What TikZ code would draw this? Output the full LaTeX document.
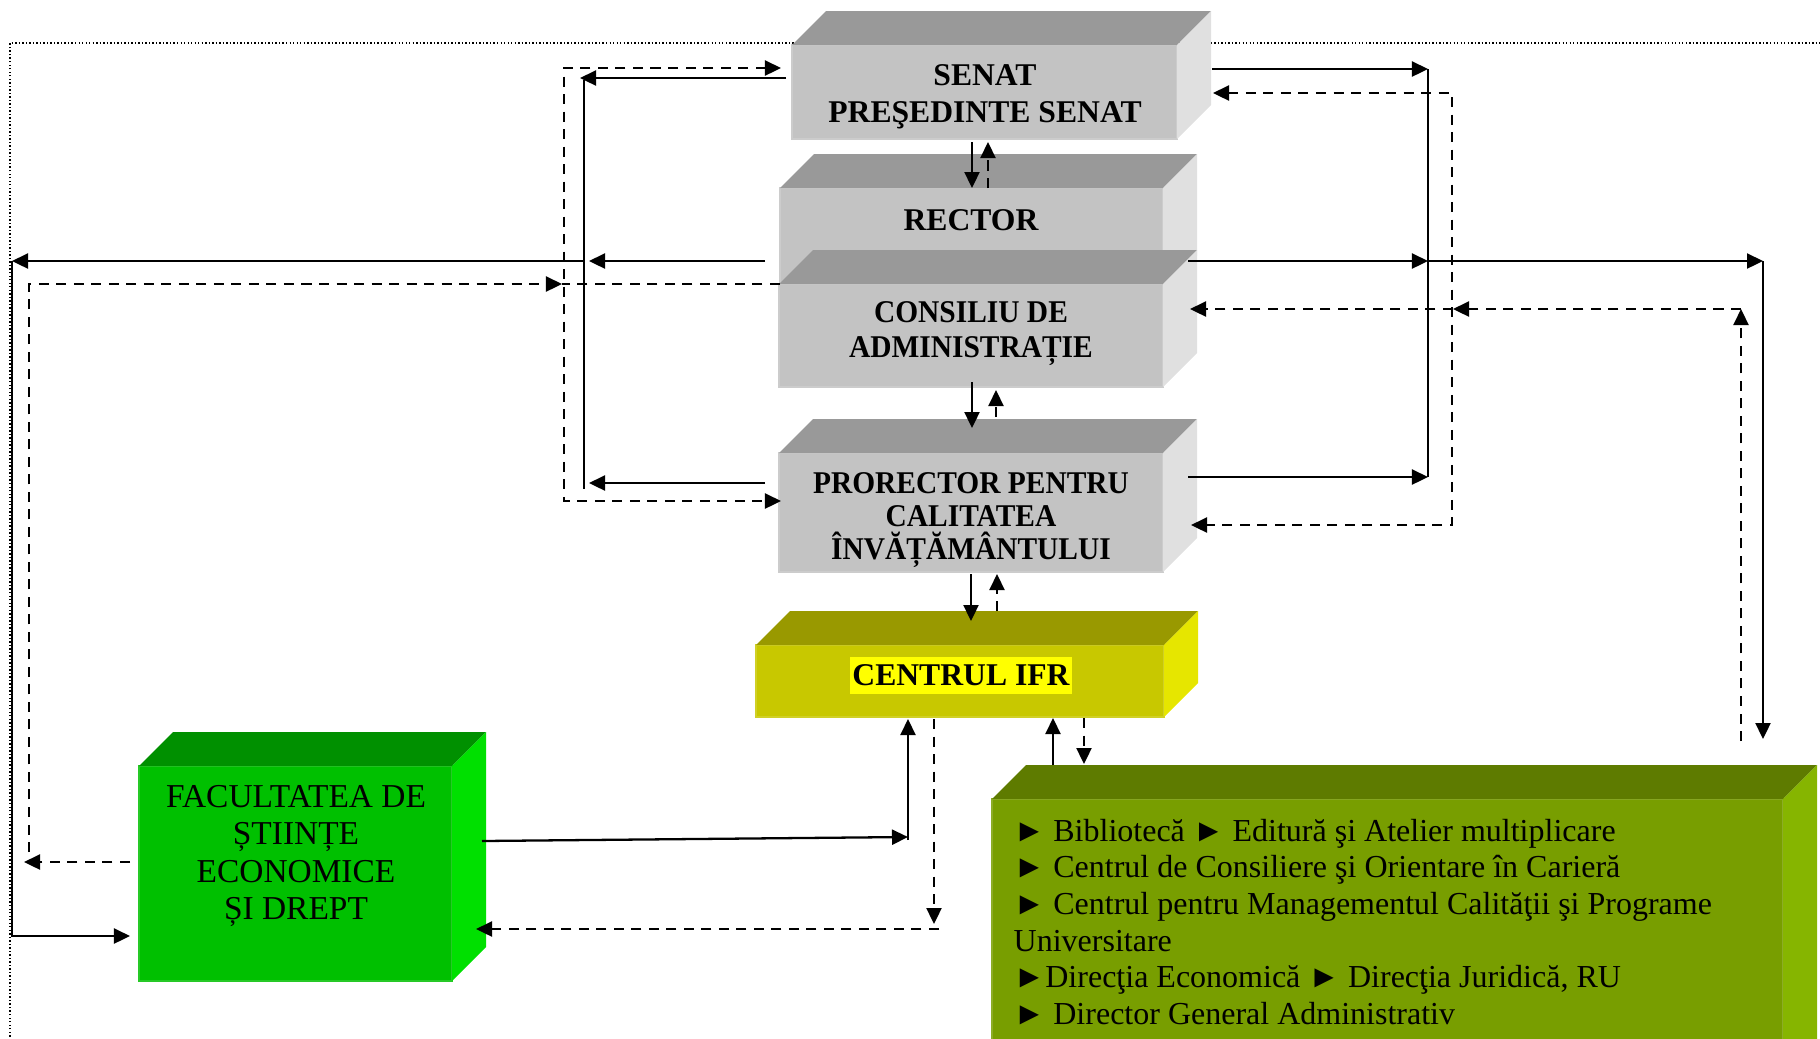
\documentclass[tikz,border=0pt]{standalone}
\usepackage{fontspec}
\setmainfont{Liberation Serif}
\newfontfamily\condserif[FakeStretch=0.93]{Liberation Serif}
\usetikzlibrary{arrows.meta}
\definecolor{gytop}{HTML}{999999}
\definecolor{gyfront}{HTML}{C3C3C3}
\definecolor{gyside}{HTML}{E0E0E0}
\definecolor{yltop}{HTML}{999900}
\definecolor{ylfront}{HTML}{C8C800}
\definecolor{ylside}{HTML}{E6E600}
\definecolor{grtop}{HTML}{009000}
\definecolor{grfront}{HTML}{00C000}
\definecolor{grside}{HTML}{00E000}
\definecolor{oltop}{HTML}{5E7B00}
\definecolor{olfront}{HTML}{789E00}
\definecolor{olside}{HTML}{86B500}
\definecolor{hilite}{HTML}{FFFF00}
\newcommand\cuboid[7]{%
  \node[frontface, fill=#6front, draw=#6front!85!white, minimum width=#4*0.01cm, minimum height=#5*0.01cm] (#1) at (#2,#3) {};
  \fill[#6top] (#1.north west) -- ++(#7,-#7) -- ([shift={(#7,-#7)}]#1.north east) -- (#1.north east) -- cycle;
  \fill[#6side] (#1.north east) -- ++(#7,-#7) -- ([shift={(#7,-#7)}]#1.south east) -- (#1.south east) -- cycle;
}
\begin{document}
\begin{tikzpicture}[x=0.01cm,y=-0.01cm,
  frontface/.style={rectangle, anchor=north west, inner sep=0pt, outer sep=0pt, line width=0.5pt},
  ln/.style={line width=0.65pt},
  thinl/.style={line width=0.35pt},
  dsh/.style={line width=0.65pt, dash pattern=on 0.1cm off 0.075cm},
  tip/.style={-{Triangle[length=0.16cm,width=0.15cm]}},
  tips2/.style={{Triangle[length=0.16cm,width=0.15cm]}-{Triangle[length=0.16cm,width=0.15cm]}},
  bl/.style={font=\fontsize{9}{10.5}\selectfont\bfseries, align=center, inner sep=0pt},
  cbl/.style={align=center, inner sep=0pt},
  nl/.style={font=\fontsize{9.5}{10.6}\selectfont, align=center, inner sep=0pt},
  lst/.style={font=\fontsize{9.1}{10.5}\selectfont, anchor=base west, inner sep=0pt}]
\useasboundingbox (0,0) rectangle (1820,1038);
\clip (0,0) rectangle (1820,1038);
% dotted frame
\draw[line width=0.4pt, dash pattern=on 0.4pt off 0.6pt] (10,1040) -- (10,43) -- (1822,43);
% boxes
\cuboid{senat}{792}{45}{385}{94}{gy}{34}
\cuboid{rector}{780}{188}{383}{102}{gy}{34}
\cuboid{consiliu}{779}{284}{384}{103}{gy}{34}
\cuboid{prorector}{779}{453}{384}{119}{gy}{34}
\cuboid{centrul}{756}{645}{408}{72}{yl}{34}
\cuboid{facultate}{139}{766}{313}{215}{gr}{34}
\cuboid{servicii}{992}{799}{791}{300}{ol}{34}
% labels
\node[bl] (senatlbl) at (985,97) {SENAT\\PREŞEDINTE SENAT};
\node[bl] (rectorlbl) at (971,220) {RECTOR};
\node[cbl, font=\fontsize{9}{10}\condserif\bfseries] (consiliulbl) at (971,333.5) {CONSILIU DE\\ADMINISTRAȚIE};
\node[cbl, font=\fontsize{9}{9.4}\condserif\bfseries] (prorectorlbl) at (971,520) {PRORECTOR PENTRU\\CALITATEA\\ÎNVĂȚĂMÂNTULUI};
\node[bl, fill=hilite, inner xsep=0.6pt, minimum height=0.37cm] (centrullbl) at (961,675) {CENTRUL IFR};
\node[nl] (faclbl) at (296,856) {FACULTATEA DE\\ȘTIINȚE\\ECONOMICE\\ȘI DREPT};
\node[lst] (l1) at (1013,841) {► Bibliotecă ► Editură şi Atelier multiplicare};
\node[lst] (l2) at (1013,877) {► Centrul de Consiliere şi Orientare în Carieră};
\node[lst] (l3) at (1013,914) {► Centrul pentru Managementul Calităţii şi Programe};
\node[lst] (l4) at (1013,951) {Universitare};
\node[lst] (l5) at (1013,987) {►Direcţia Economică ► Direcţia Juridică, RU};
\node[lst] (l6) at (1013,1024) {► Director General Administrativ};
% named bend points
\coordinate (lbT) at (584,80);  \coordinate (lbB) at (584,489);
\coordinate (rbT) at (1428,69); \coordinate (rbB) at (1428,477);
\coordinate (rbM) at (1428,261);
\coordinate (ldT) at (564,68);  \coordinate (ldB) at (564,501); \coordinate (ldM) at (562,284);
\coordinate (rdT) at (1452,93); \coordinate (rdB) at (1452,525); \coordinate (rdM) at (1453,309);
\coordinate (flT) at (12,261);  \coordinate (flB) at (12,936);
\coordinate (fdT) at (29,284);  \coordinate (fdB) at (29,852); \coordinate (fdA) at (24,862);
\coordinate (frT) at (1763,261); \coordinate (frB) at (1763,739);
\coordinate (frdT) at (1741,309); \coordinate (frdB) at (1741,741);
\coordinate (ifrS) at (908,837);
\coordinate (ifrD) at (934,924); \coordinate (ifrE) at (939,929);
% left solid
\draw[thinl] (lbT) -- (lbB);
\draw[ln,tip] (786,78) -- (580,78);
\draw[ln,tip] (765,261) -- (589,261);
\draw[ln,tip] (584,261) -- (flT);
\draw[ln,tip] (flT) -- (flB) -- (130,936);
\draw[ln,tip] (765,483) -- (589,483);
% left dashed
\draw[dsh,tips2] (781,68) -- (ldT) -- (ldB) -- (781,501);
\draw[dsh] (780,284) -- (ldM);
\draw[dsh,tip] (fdB) -- (fdT) -- (ldM);
\draw[dsh,tip] (130,862) -- (fdA);
% right solid
\draw[thinl] (rbT) -- (rbB);
\draw[ln,tip] (1212,69) -- (rbT);
\draw[ln,tip] (1188,261) -- (rbM);
\draw[ln,tip] (rbM) -- (frT);
\draw[ln,tip] (frT) -- (frB);
\draw[ln,tip] (1188,477) -- (rbB);
% right dashed
\draw[dsh,tips2] (1213,93) -- (rdT) -- (rdB) -- (1191,525);
\draw[dsh,tip] (frdB) -- (frdT);
\draw[dsh,tip] (frdT) -- (rdM);
\draw[dsh,tip] (rdM) -- (1190,309);
% vertical links in the middle
\draw[ln,tip] (972,142) -- (972,188);
\draw[dsh,tip] (988,188) -- (988,142);
\draw[ln,tip] (972,382) -- (972,428);
\draw[dsh,tip] (996,417) -- (996,390);
\draw[ln,tip] (971,574) -- (971,621);
\draw[dsh,tip] (997,611) -- (997,574);
\draw[ln,tip] (1053,765) -- (1053,718);
\draw[dsh,tip] (1084,718) -- (1084,764);
% facultate <-> centrul
\draw[ln,tip] (482,841) -- (ifrS);
\draw[ln,tip] (908,840) -- (908,719);
\draw[dsh,tip] (934,719) -- (ifrD);
\draw[dsh,tip] (ifrE) -- (476,929);
\end{tikzpicture}
\end{document}
